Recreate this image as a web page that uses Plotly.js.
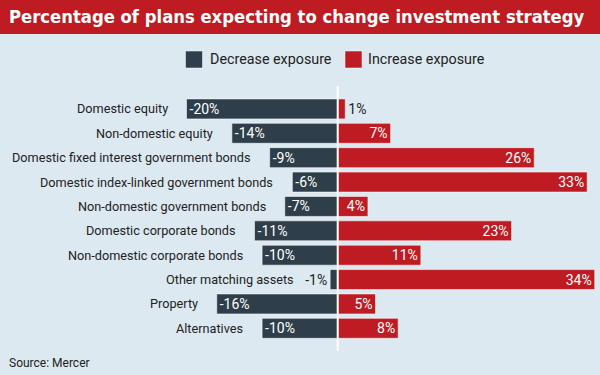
<!DOCTYPE html>
<html>
<head>
<meta charset="utf-8">
<script src="https://cdn.plot.ly/plotly-3.0.1.min.js"></script>
<style>
html,body{margin:0;padding:0;background:#dde9f1;}
#chart{width:600px;height:375px;}
</style>
</head>
<body>
<div id="chart"></div>
<script>
// ---- data ----
const categories = [
  "Domestic equity",
  "Non-domestic equity",
  "Domestic fixed interest government bonds",
  "Domestic index-linked government bonds",
  "Non-domestic government bonds",
  "Domestic corporate bonds",
  "Non-domestic corporate bonds",
  "Other matching assets",
  "Property",
  "Alternatives"
];
const decreaseExposure = [-20, -14, -9, -6, -7, -11, -10, -1, -16, -10];
const increaseExposure = [1, 7, 26, 33, 4, 23, 11, 34, 5, 8];
const seriesNames = ["Decrease exposure", "Increase exposure"];
const titleText = "Percentage of plans expecting to change investment strategy";
const sourceText = "Source: Mercer";

// ---- style ----
const W = 600, H = 375;
const M = {l: 180, r: 4, t: 86, b: 24};
const PW = W - M.l - M.r, PH = H - M.t - M.b;
const BG = "#dde9f1";
const DARK = "#2e3f4b";
const RED = "#bf1b22";
const TEXT = "#222222";
const FONT = "Roboto, 'Open Sans', sans-serif";
const px2x = px => (px - M.l) / PW;
const px2y = py => (H - M.b - py) / PH;

const pos = v => Math.abs(v) < 2 ? "outside" : "inside";
const lbl = v => v + "%";

const traces = [
  {
    type: "bar", orientation: "h", name: seriesNames[0],
    y: categories, x: decreaseExposure,
    text: decreaseExposure.map(lbl), textposition: decreaseExposure.map(pos),
    insidetextanchor: "end", constraintext: "none", cliponaxis: false,
    insidetextfont: {color: "#ffffff", size: 14, family: FONT},
    outsidetextfont: {color: TEXT, size: 14, family: FONT},
    marker: {color: DARK, line: {color: "rgba(255,255,255,0.55)", width: 1}},
    hoverinfo: "skip"
  },
  {
    type: "bar", orientation: "h", name: seriesNames[1],
    y: categories, x: increaseExposure,
    text: increaseExposure.map(lbl), textposition: increaseExposure.map(pos),
    insidetextanchor: "end", constraintext: "none", cliponaxis: false,
    insidetextfont: {color: "#ffffff", size: 14, family: FONT},
    outsidetextfont: {color: TEXT, size: 14, family: FONT},
    marker: {color: RED, line: {color: "rgba(255,255,255,0.55)", width: 1}},
    hoverinfo: "skip"
  }
];

const annotations = categories.map((c, i) => ({
  x: decreaseExposure[i], y: c, xref: "x", yref: "y",
  text: c, showarrow: false, xanchor: "right", yanchor: "middle",
  xshift: pos(decreaseExposure[i]) === "outside" ? -34 : -17,
  font: {family: FONT, size: 12.7, color: TEXT}
}));

// legend (custom)
const legendItems = [
  {sq: 185.5, tx: 208, color: DARK, name: seriesNames[0]},
  {sq: 345, tx: 366, color: RED, name: seriesNames[1]}
];
const shapes = [
  // title bar
  {type: "rect", xref: "paper", yref: "paper", layer: "below",
   x0: px2x(0), x1: px2x(W), y0: px2y(34), y1: px2y(0),
   fillcolor: RED, line: {width: 0}},
  // zero line
  {type: "line", xref: "x", yref: "paper", x0: 0, x1: 0, y0: 0, y1: 1,
   line: {color: "#ffffff", width: 2}, layer: "above"}
];
legendItems.forEach(it => {
  shapes.push({type: "rect", xref: "paper", yref: "paper",
    x0: px2x(it.sq), x1: px2x(it.sq + 17), y0: px2y(68), y1: px2y(51),
    fillcolor: it.color, line: {color: "rgba(255,255,255,0.5)", width: 1}});
  annotations.push({xref: "paper", yref: "paper", x: px2x(it.tx), y: px2y(59.5),
    xanchor: "left", yanchor: "middle", showarrow: false, text: it.name,
    font: {family: FONT, size: 14.3, color: TEXT}});
});
annotations.push({xref: "paper", yref: "paper", x: px2x(6.5), y: px2y(362.5),
  xanchor: "left", yanchor: "middle", showarrow: false, text: sourceText,
  font: {family: FONT, size: 12, color: TEXT}});

const layout = {
  width: W, height: H,
  margin: M,
  paper_bgcolor: BG, plot_bgcolor: BG,
  showlegend: false,
  barmode: "relative", bargap: 0.18,
  title: {
    text: titleText, x: 9 / W, xref: "container", xanchor: "left",
    y: 1 - 16.5 / H, yref: "container", yanchor: "middle",
    font: {family: "'DejaVu Sans Condensed', 'DejaVu Sans', sans-serif",
           size: 18.3, color: "#ffffff", weight: "bold"}
  },
  xaxis: {range: [-(337.7 - M.l) / 7.56, (W - M.r - 337.7) / 7.56],
          showgrid: false, zeroline: false, showticklabels: false, ticks: "", fixedrange: true},
  yaxis: {type: "category", range: [9.93, -0.94], autorange: false,
          showgrid: false, zeroline: false, showticklabels: false, ticks: "", fixedrange: true},
  shapes: shapes,
  annotations: annotations
};

Plotly.newPlot("chart", traces, layout, {displayModeBar: false, staticPlot: true});
</script>
</body>
</html>
